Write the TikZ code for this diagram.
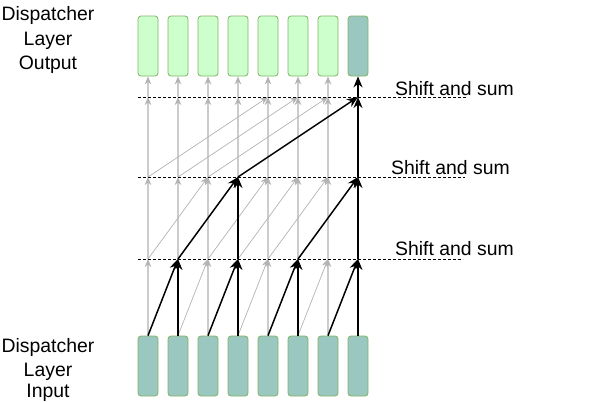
\documentclass[tikz,border=0pt]{standalone}
\usepackage{fontspec}
\setmainfont{Liberation Sans}
\usetikzlibrary{arrows.meta}
\definecolor{boxgreen}{HTML}{CCFFCC}
\definecolor{boxteal}{HTML}{9AC7BF}
\definecolor{boxline}{HTML}{82B366}
\definecolor{grayv}{HTML}{CCCCCC}
\definecolor{grayd}{HTML}{B3B3B3}
\begin{document}
\begin{tikzpicture}[x=1pt,y=-1pt,
  cell/.style={draw=boxline, line width=0.8pt, rounded corners=3pt, minimum width=20pt, minimum height=60pt, inner sep=0pt},
  outcell/.style={cell, fill=boxgreen},
  incell/.style={cell, fill=boxteal},
  gv/.style={draw=grayv, line width=1.5pt, -{Stealth[length=8pt,width=6.5pt,inset=2.5pt,color=grayd]}},
  gd/.style={draw=grayd, line width=0.7pt, -{Stealth[length=8pt,width=6.5pt,inset=2.5pt,color=grayd]}},
  bk/.style={draw=black, line width=1.5pt, -{Stealth[length=11pt,width=9pt,inset=3.5pt]}},
  sep/.style={draw=black, line width=0.9pt, dash pattern=on 3pt off 2pt},
  lbl/.style={font=\fontsize{19.4}{23}\selectfont, inner sep=0pt, anchor=base},
  side/.style={font=\fontsize{19.4}{23}\selectfont, inner sep=0pt, anchor=base west}
]
\useasboundingbox (0,0) rectangle (593,402);

% cells and level coordinates
\foreach \i in {0,...,7} {
  \pgfmathsetmacro\xx{148+30*\i}
  \ifnum\i=7
    \node[incell] (t\i) at (\xx,46) {};
  \else
    \node[outcell] (t\i) at (\xx,46) {};
  \fi
  \node[incell] (b\i) at (\xx,366) {};
  \coordinate (p1-\i) at (\xx,259);
  \coordinate (p2-\i) at (\xx,177);
  \coordinate (p3-\i) at (\xx,97);
}

% gray connections
\foreach \i in {0,2,4,6} \draw[gv] (b\i.north) -- (p1-\i);
\foreach \i/\j in {1/2,3/4,5/6} \draw[gd] (b\i.north) -- (p1-\j);
\foreach \i in {0,1,2,4,5,6} \draw[gv] (p1-\i) -- (p2-\i);
\foreach \i/\j in {0/2,2/4,3/5,4/6} \draw[gd] (p1-\i) -- (p2-\j);
\foreach \i in {0,...,6} \draw[gv] (p2-\i) -- (p3-\i);
\foreach \i/\j in {0/4,1/5,2/6} \draw[gd] (p2-\i) -- (p3-\j);
\foreach \i in {0,...,6} \draw[gv] (p3-\i) -- (t\i.south);

% separators
\coordinate (s1a) at (138,97);  \coordinate (s1b) at (467,97);
\coordinate (s2a) at (138,177); \coordinate (s2b) at (465,177);
\coordinate (s3a) at (138,259); \coordinate (s3b) at (463,259);
\draw[sep] (s1a) -- (s1b);
\draw[sep] (s2a) -- (s2b);
\draw[sep] (s3a) -- (s3b);

% black path
\foreach \i in {1,3,5,7} \draw[bk] (b\i.north) -- (p1-\i);
\foreach \i/\j in {0/1,2/3,4/5,6/7} \draw[bk] (b\i.north) -- (p1-\j);
\foreach \i in {3,7} \draw[bk] (p1-\i) -- (p2-\i);
\foreach \i/\j in {1/3,5/7} \draw[bk] (p1-\i) -- (p2-\j);
\draw[bk] (p2-7) -- (p3-7);
\draw[bk] (p2-3) -- (p3-7);
\draw[bk] (p3-7) -- (t7.south);

% labels
\node[side] (ss1) at (395,95) {Shift and sum};
\node[side] (ss2) at (391,174) {Shift and sum};
\node[side] (ss3) at (395,255) {Shift and sum};

\node[lbl] (o1) at (48,20.7) {Dispatcher};
\node[lbl] (o2) at (48,45) {Layer};
\node[lbl] (o3) at (48,69) {Output};
\node[lbl] (i1) at (48,352) {Dispatcher};
\node[lbl] (i2) at (48,376) {Layer};
\node[lbl] (i3) at (48,397.5) {Input};
\end{tikzpicture}
\end{document}
